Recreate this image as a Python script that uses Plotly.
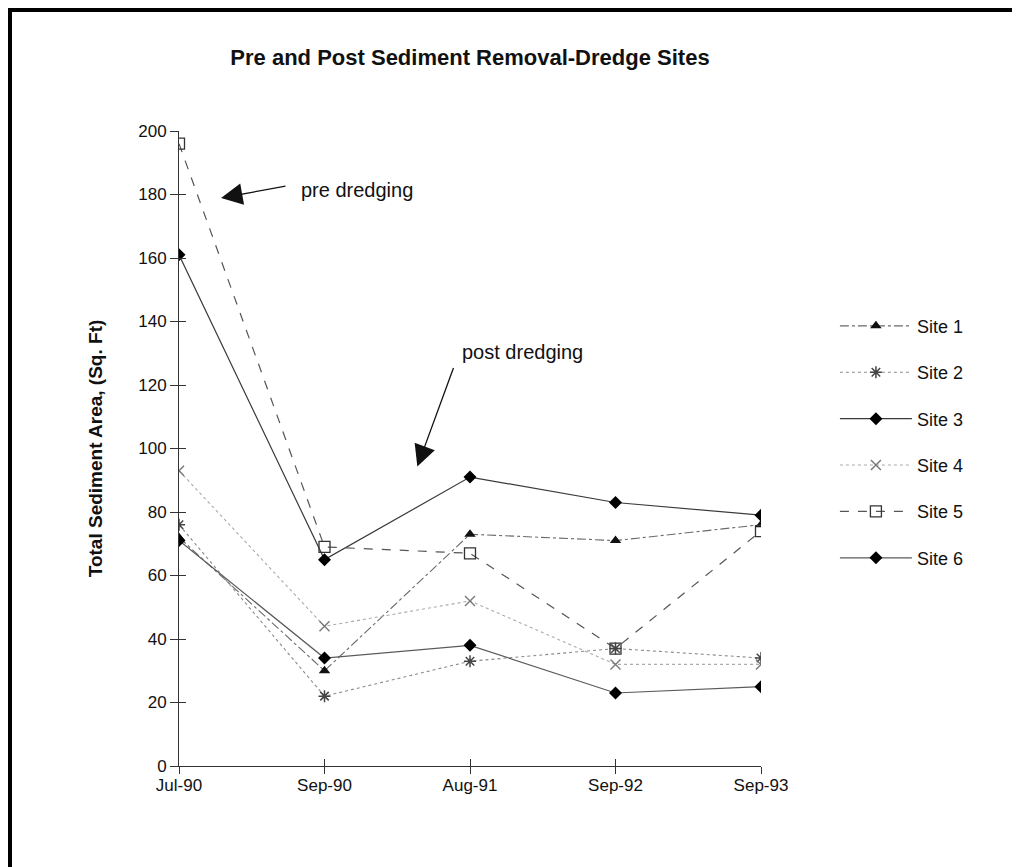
import plotly.graph_objects as go

months = ["Jul-90", "Sep-90", "Aug-91", "Sep-92", "Sep-93"]
site1 = [72, 30, 73, 71, 76]
site2 = [76, 22, 33, 37, 34]
site3 = [161, 65, 91, 83, 79]
site4 = [93, 44, 52, 32, 32]
site5 = [196, 69, 67, 37, 74]
site6 = [71, 34, 38, 23, 25]

FONT = "Liberation Sans, Arial, Helvetica, sans-serif"

# figure is placed 8px into the page (body margin), so work in figure coords
W, H = 1020, 859
L, T = 171, 123          # plot area left / top
PW, PH = 582, 635        # plot area width / height

series = [
    ("Site 1", site1, dict(color="#6a6a6a", width=1.1, dash="dashdot"),
     dict(symbol="triangle-up", size=10, color="#111")),
    ("Site 2", site2, dict(color="#8a8a8a", width=1.1, dash="dot"),
     dict(symbol="asterisk-open", size=10, color="#444", line=dict(width=1.5, color="#444"))),
    ("Site 3", site3, dict(color="#3a3a3a", width=1.2, dash="solid"),
     dict(symbol="diamond", size=10, color="#000")),
    ("Site 4", site4, dict(color="#aaaaaa", width=1.1, dash="dot"),
     dict(symbol="x-thin-open", size=10, color="#777", line=dict(width=1.4, color="#777"))),
    ("Site 5", site5, dict(color="#555555", width=1.2, dash="dash"),
     dict(symbol="square-open", size=11, color="#333", line=dict(width=1.3, color="#333"))),
    ("Site 6", site6, dict(color="#5a5a5a", width=1.2, dash="solid"),
     dict(symbol="diamond", size=10, color="#000")),
]

fig = go.Figure()
for i, (name, vals, ln, mk) in enumerate(series):
    fig.add_trace(go.Scatter(
        x=months, y=vals, name=name, mode="lines+markers",
        line=ln, marker=mk, legendgroup=f"g{i}",
    ))

# helper trace for the overlay axes (inward half of the crossing ticks)
fig.add_trace(go.Scatter(x=[], y=[], xaxis="x2", yaxis="y2", showlegend=False, hoverinfo="skip"))

axis_col = "#333333"
fig.update_layout(
    width=W, height=H,
    margin=dict(l=L, r=W - L - PW, t=T, b=H - T - PH),
    paper_bgcolor="white", plot_bgcolor="white",
    font=dict(family=FONT, color="#1a1a1a", size=16),
    title=dict(text="<b>Pre and Post Sediment Removal-Dredge Sites</b>",
               x=0.5, xref="paper", xanchor="center",
               y=1 - 49 / H, yanchor="middle",
               font=dict(size=22, family=FONT, color="#111")),
    xaxis=dict(type="category", categoryorder="array", categoryarray=months,
               range=[0, 4], showgrid=False, zeroline=False,
               showline=True, linecolor=axis_col, linewidth=1,
               ticks="outside", ticklen=7, tickcolor=axis_col, tickwidth=1,
               ticklabelstandoff=-3,
               tickfont=dict(size=17, family=FONT, color="#111")),
    yaxis=dict(range=[0, 200], dtick=20, showgrid=False, zeroline=False,
               showline=True, linecolor=axis_col, linewidth=1,
               ticks="outside", ticklen=8, tickcolor=axis_col, tickwidth=1,
               tickfont=dict(size=17, family=FONT, color="#111"),
               title=dict(text="<b>Total Sediment Area, (Sq. Ft)</b>",
                          font=dict(size=19, family=FONT, color="#111"),
                          standoff=30)),
    xaxis2=dict(overlaying="x", anchor="y2", range=[0, 4], dtick=1, tick0=0,
                ticks="inside", ticklen=7, tickcolor=axis_col, tickwidth=1,
                showticklabels=False, showgrid=False, zeroline=False, showline=False),
    yaxis2=dict(overlaying="y", anchor="x2", range=[0, 200], dtick=20, tick0=0,
                ticks="inside", ticklen=7, tickcolor=axis_col, tickwidth=1,
                showticklabels=False, showgrid=False, zeroline=False, showline=False),
    legend=dict(x=1.127, xanchor="left", y=0.51, yanchor="middle",
                font=dict(size=18, family=FONT, color="#111"),
                itemwidth=72, tracegroupgap=20, traceorder="grouped",
                bgcolor="rgba(0,0,0,0)"),
    showlegend=True,
)

# annotations: text and arrows
fig.add_annotation(x=0.742, y=182.7, text="pre dredging", showarrow=False,
                   xanchor="left", yanchor="middle", xshift=12, yshift=-4,
                   font=dict(size=20, family=FONT, color="#111"))
fig.add_annotation(x=0.289, y=178.9, ax=0.742, ay=182.7, axref="x", ayref="y",
                   text="", showarrow=True, arrowhead=2, arrowsize=3.3,
                   arrowwidth=1.3, arrowcolor="#111")
fig.add_annotation(x=1.89, y=125.8, text="post dredging", showarrow=False,
                   xanchor="left", yanchor="bottom", xshift=6, yshift=2,
                   font=dict(size=20, family=FONT, color="#111"))
fig.add_annotation(x=1.638, y=94.3, ax=1.89, ay=125.8, axref="x", ayref="y",
                   text="", showarrow=True, arrowhead=2, arrowsize=3.3,
                   arrowwidth=1.3, arrowcolor="#111")

# scanned page frame (top and left black border)
def px(xf):
    return (xf - L) / PW

def py(yf):
    return (T + PH - yf) / PH

fig.add_shape(type="line", xref="paper", yref="paper",
              x0=px(0), x1=px(W), y0=py(2), y1=py(2),
              line=dict(color="black", width=4))
fig.add_shape(type="line", xref="paper", yref="paper",
              x0=px(2), x1=px(2), y0=py(0), y1=py(H),
              line=dict(color="black", width=4))

fig.write_html("out.html")
